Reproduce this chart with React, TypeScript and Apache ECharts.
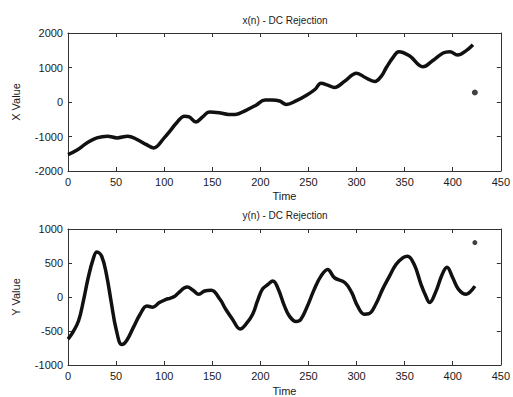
import React, { useEffect, useRef } from "react";
import * as echarts from "echarts";

// x(n) - DC Rejection
const xTimes = [0, 9, 20, 30, 41, 51, 62, 72, 81, 89, 100, 106, 113, 121, 126, 133, 140, 147, 157, 167, 174, 185, 195, 205, 212, 220, 227, 237, 248, 257, 263, 270, 277, 288, 300, 309, 319, 326, 331, 338, 344, 355, 369, 379, 390, 397, 405, 414, 421];
const xValues = [-1525, -1400, -1180, -1040, -990, -1040, -990, -1090, -1230, -1330, -1040, -845, -600, -410, -430, -580, -430, -290, -310, -360, -360, -240, -100, 60, 60, 30, -70, 30, 195, 370, 545, 490, 420, 610, 835, 710, 595, 760, 1000, 1295, 1460, 1340, 1020, 1195, 1420, 1460, 1360, 1490, 1660];
const xOutlier = [423, 275];

// y(n) - DC Rejection
const yTimes = [0, 5, 11, 16, 21, 26, 30, 35, 40, 45, 50, 56, 61, 68, 75, 82, 88, 95, 102, 106, 111, 114, 124, 130, 136, 142, 149, 158, 164, 171, 179, 185, 192, 197, 202, 208, 213, 218, 225, 230, 237, 242, 249, 256, 263, 270, 277, 288, 295, 301, 308, 313, 320, 327, 334, 341, 348, 353, 360, 367, 372, 376, 382, 389, 394, 400, 406, 414, 419, 423];
const yValues = [-618, -520, -350, -58, 283, 550, 663, 600, 330, -80, -470, -700, -640, -447, -253, -131, -150, -82, -34, -19, 10, 50, 146, 98, 40, 88, 98, -34, -180, -326, -472, -400, -253, -58, 112, 185, 234, 137, -130, -277, -360, -330, -131, 112, 307, 404, 283, 210, 64, -131, -253, -245, -107, 112, 300, 477, 575, 600, 477, 185, 15, -82, 64, 331, 438, 283, 112, 40, 88, 160];
const yOutlier = [423, 800];

const titles = ["x(n) - DC Rejection", "y(n) - DC Rejection"];
const yNames = ["X Value", "Y Value"];
const xName = "Time";

const FONT = "Liberation Sans, Arial, sans-serif";
const TXT = "#1a1a1a";
const AX = "#333";

export default function App() {
  const ref = useRef<HTMLDivElement>(null);
  useEffect(() => {
    if (!ref.current) return;
    const chart = echarts.init(ref.current, null, { renderer: "svg" });
    const grids = [
      { left: 68, top: 33, width: 434, height: 138 },
      { left: 68, top: 229, width: 434, height: 136 },
    ];
    const yRanges = [
      { min: -2000, max: 2000, interval: 1000 },
      { min: -1000, max: 1000, interval: 500 },
    ];
    const fmt = (v: number) => String(v);
    const xAxes: any[] = [];
    const yAxes: any[] = [];
    [0, 1].forEach((g) => {
      xAxes.push({
        type: "value", gridIndex: g, min: 0, max: 450, interval: 50, position: "bottom",
        name: xName, nameLocation: "middle", nameGap: g === 0 ? 19 : 20,
        nameTextStyle: { fontFamily: FONT, fontSize: 11, color: TXT },
        axisLine: { show: true, onZero: false, lineStyle: { color: AX, width: 1 } },
        axisTick: { show: true, inside: true, length: 4, lineStyle: { color: AX } },
        axisLabel: { fontFamily: FONT, fontSize: 11, color: TXT, margin: 5, formatter: fmt },
        splitLine: { show: false },
      });
      xAxes.push({
        type: "value", gridIndex: g, min: 0, max: 450, interval: 50, position: "top",
        axisLine: { show: true, onZero: false, lineStyle: { color: AX, width: 1 } },
        axisTick: { show: true, inside: true, length: 4, lineStyle: { color: AX } },
        axisLabel: { show: false },
        splitLine: { show: false },
      });
      yAxes.push({
        type: "value", gridIndex: g, ...yRanges[g], position: "left",
        name: yNames[g], nameLocation: "middle", nameGap: 47, nameRotate: 90,
        nameTextStyle: { fontFamily: FONT, fontSize: 11, color: TXT },
        axisLine: { show: true, onZero: false, lineStyle: { color: AX, width: 1 } },
        axisTick: { show: true, inside: true, length: 4, lineStyle: { color: AX } },
        axisLabel: { fontFamily: FONT, fontSize: 11, color: TXT, margin: 5, formatter: fmt },
        splitLine: { show: false },
      });
      yAxes.push({
        type: "value", gridIndex: g, ...yRanges[g], position: "right",
        axisLine: { show: true, onZero: false, lineStyle: { color: AX, width: 1 } },
        axisTick: { show: true, inside: true, length: 4, lineStyle: { color: AX } },
        axisLabel: { show: false },
        splitLine: { show: false },
      });
    });
    const lineStyle = { color: "#111", width: 3.5 };
    chart.setOption({
      animation: false,
      backgroundColor: "#fff",
      grid: grids,
      xAxis: xAxes,
      yAxis: yAxes,
      graphic: [
        { type: "text", x: 285, y: 20, style: { text: titles[0], textAlign: "center", textVerticalAlign: "middle", fontFamily: FONT, fontSize: 10, fill: TXT } },
        { type: "text", x: 285, y: 215, style: { text: titles[1], textAlign: "center", textVerticalAlign: "middle", fontFamily: FONT, fontSize: 10, fill: TXT } },
      ],
      series: [
        { type: "line", xAxisIndex: 0, yAxisIndex: 0, data: xTimes.map((t, i) => [t, xValues[i]]), showSymbol: false, smooth: 0.4, lineStyle },
        { type: "scatter", xAxisIndex: 0, yAxisIndex: 0, data: [xOutlier], symbolSize: 6, itemStyle: { color: "#111" } },
        { type: "line", xAxisIndex: 2, yAxisIndex: 2, data: yTimes.map((t, i) => [t, yValues[i]]), showSymbol: false, smooth: 0.4, lineStyle },
        { type: "scatter", xAxisIndex: 2, yAxisIndex: 2, data: [yOutlier], symbolSize: 5, itemStyle: { color: "#111" } },
      ],
    });
    return () => chart.dispose();
  }, []);
  return <div ref={ref} style={{ position: "fixed", left: 0, top: 0, width: 513, height: 397 }} />;
}
